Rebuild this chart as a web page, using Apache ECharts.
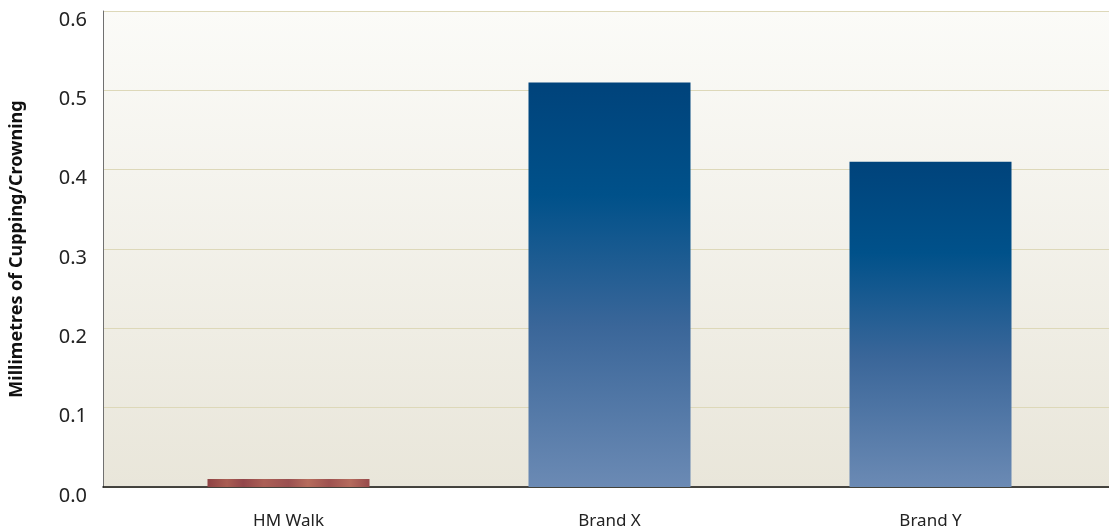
<!DOCTYPE html>
<html>
<head>
<meta charset="utf-8">
<script src="https://cdn.jsdelivr.net/npm/echarts@6/dist/echarts.min.js"></script>
<style>
html,body{margin:0;padding:0;background:#fff;}
#c{width:1109px;height:529px;}
</style>
</head>
<body>
<div id="c"></div>
<script>
var categories = ['HM Walk', 'Brand X', 'Brand Y'];
var values = [0.01, 0.51, 0.41];
var yTicks = ['0.0', '0.1', '0.2', '0.3', '0.4', '0.5', '0.6'];
var yAxisTitle = 'Millimetres of Cupping/Crowning';

var G = echarts.graphic;
var blueGrad = new G.LinearGradient(0, 0, 0, 1, [
  {offset: 0, color: '#00437b'},
  {offset: 0.28, color: '#00518a'},
  {offset: 0.6, color: '#3a6699'},
  {offset: 1, color: '#6b8ab4'}
]);
var woodGrad = new G.LinearGradient(0, 0, 1, 0, [
  {offset: 0, color: '#8e4244'},
  {offset: 0.12, color: '#a95d52'},
  {offset: 0.22, color: '#92464a'},
  {offset: 0.35, color: '#ab5f55'},
  {offset: 0.5, color: '#9a5050'},
  {offset: 0.62, color: '#b66c5c'},
  {offset: 0.75, color: '#9e5250'},
  {offset: 0.88, color: '#b56b5d'},
  {offset: 1, color: '#974a4b'}
]);
var barColors = [woodGrad, blueGrad, blueGrad];

var chart = echarts.init(document.getElementById('c'), null, {renderer: 'canvas'});
chart.setOption({
  animation: false,
  backgroundColor: '#ffffff',
  textStyle: {fontFamily: 'Noto Sans'},
  grid: [
    {left: 103, right: 0, top: 11, bottom: 42, show: true, borderWidth: 0,
     outerBoundsMode: 'none', containLabel: false,
     backgroundColor: new G.LinearGradient(0, 0, 0, 1, [
       {offset: 0, color: '#fbfbf8'},
       {offset: 1, color: '#e9e6da'}
     ])},
    {left: 128, right: 18, top: 11, bottom: 42, outerBoundsMode: 'none', containLabel: false}
  ],
  xAxis: [
    {type: 'category', gridIndex: 0, data: [''],
     axisLine: {show: true, lineStyle: {color: '#111', width: 1.5}},
     axisTick: {show: false}, axisLabel: {show: false}, splitLine: {show: false}},
    {type: 'category', gridIndex: 1, data: categories,
     axisLine: {show: false}, axisTick: {show: false},
     axisLabel: {color: '#222', fontSize: 17, margin: 26, fontFamily: 'Noto Sans'}}
  ],
  yAxis: [
    {type: 'value', gridIndex: 0, min: 0, max: 0.6, interval: 0.1,
     axisLine: {show: true, lineStyle: {color: '#707070', width: 1}},
     axisTick: {show: false},
     axisLabel: {color: '#222', fontSize: 20, margin: 16, verticalAlign: 'top',
                 lineHeight: 18,
                 formatter: function (v) { return yTicks[Math.round(v * 10)]; }},
     splitLine: {show: true, lineStyle: {color: '#ddd8b9', width: 1}},
     name: yAxisTitle, nameLocation: 'middle', nameGap: 77, nameRotate: 90,
     nameTextStyle: {color: '#111', fontSize: 18, fontWeight: 'bold', fontFamily: 'Noto Sans'}},
    {type: 'value', gridIndex: 1, min: 0, max: 0.6, interval: 0.1, show: false}
  ],
  series: [{
    type: 'bar', xAxisIndex: 1, yAxisIndex: 1, barWidth: 162,
    data: values.map(function (v, i) { return {value: v, itemStyle: {color: barColors[i]}}; })
  }]
});
</script>
</body>
</html>
